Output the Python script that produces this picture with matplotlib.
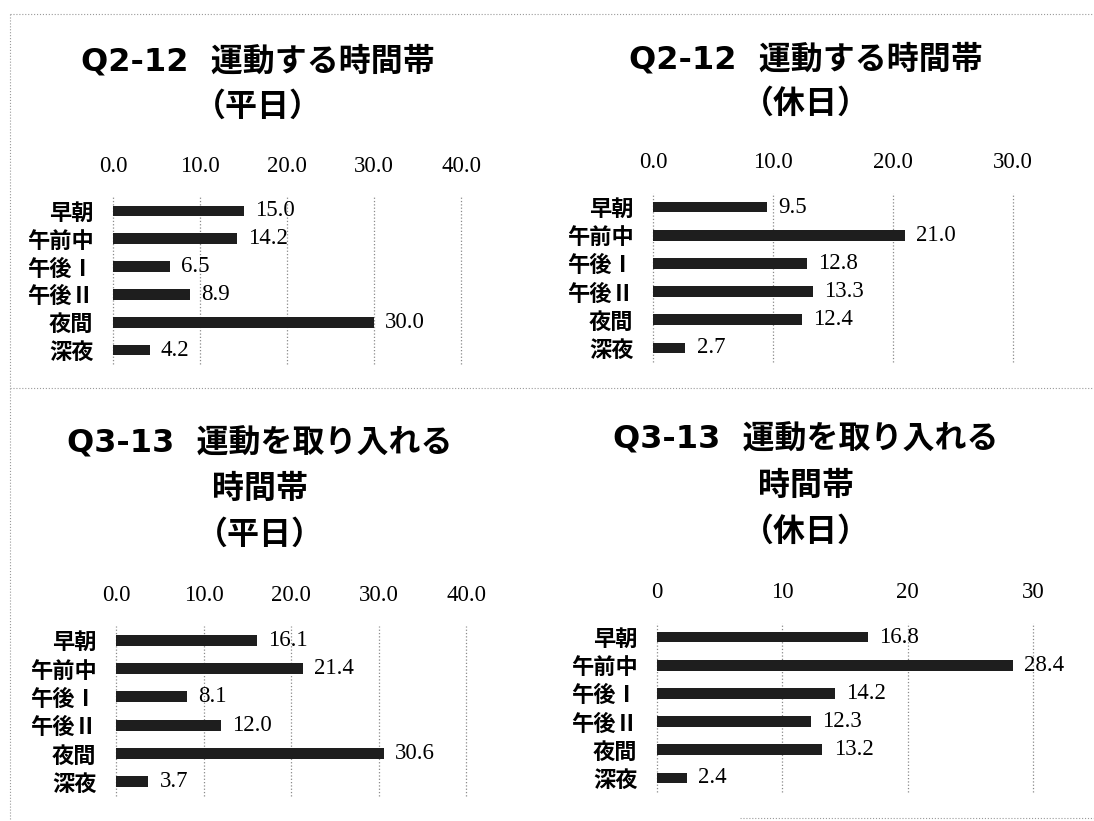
import numpy as np
import matplotlib
matplotlib.use("Agg")
import matplotlib.pyplot as plt
from matplotlib.lines import Line2D

plt.rcParams['font.family'] = ['Noto Sans CJK JP', 'DejaVu Sans']

# data (%)
categories = ['早朝', '午前中', '午後Ⅰ', '午後Ⅱ', '夜間', '深夜']

q2_weekday = [15.0, 14.2, 6.5, 8.9, 30.0, 4.2]
q2_holiday = [9.5, 21.0, 12.8, 13.3, 12.4, 2.7]
q3_weekday = [16.1, 21.4, 8.1, 12.0, 30.6, 3.7]
q3_holiday = [16.8, 28.4, 14.2, 12.3, 13.2, 2.4]

q2_title = ['Q2-12  運動する時間帯']
q3_title = ['Q3-13  運動を取り入れる', '時間帯']
weekday_label = '（平日）'
holiday_label = '（休日）'

ticks_40 = [0, 10, 20, 30, 40]
ticks_30 = [0, 10, 20, 30]

W, H = 1094, 821
fig = plt.figure(figsize=(W / 100, H / 100), dpi=100)
fig.patch.set_facecolor('white')

SERIF = 'Liberation Serif'
TITLE_FONT = ['DejaVu Sans', 'Noto Sans CJK JP']


def px_box(x0, x1, y0, y1):
    return [x0 / W, 1 - y1 / H, (x1 - x0) / W, (y1 - y0) / H]


def draw_panel(box, values, ticks, fmt, title_lines, title_x, title_ys):
    ax = fig.add_axes(box)
    y = np.arange(len(categories))
    ax.barh(y, values, height=0.38, color='#1e1e1e', zorder=3)
    ax.set_xlim(ticks[0], ticks[-1])
    ax.set_ylim(len(categories) - 0.5, -0.5)

    ax.xaxis.tick_top()
    ax.set_xticks(ticks)
    ax.set_xticklabels([fmt.format(t) for t in ticks], fontfamily=SERIF, fontsize=16.5)
    ax.tick_params(axis='x', length=0, pad=14.5)
    ax.set_yticks(y)
    ax.set_yticklabels(categories, fontsize=16, fontweight='bold')
    ax.tick_params(axis='y', length=0, pad=14)

    for s in ax.spines.values():
        s.set_visible(False)
    ax.grid(axis='x', linestyle=':', color='#8a8a8a', linewidth=0.9, zorder=0)
    for gl in ax.get_xgridlines():
        gl.set_clip_on(False)
    ax.grid(axis='y', visible=False)

    for i, v in enumerate(values):
        ax.annotate(f'{v:.1f}', (v, i), xytext=(8, 0), textcoords='offset points',
                    va='center', ha='left', fontfamily=SERIF, fontsize=16.5)

    for line, ty in zip(title_lines, title_ys):
        fig.text(title_x / W, 1 - ty / H, line, ha='center', va='center',
                 fontsize=23, fontweight='bold', family=TITLE_FONT)
    return ax


draw_panel(px_box(113, 461, 197, 364), q2_weekday, ticks_40, '{:.1f}',
           q2_title + [weekday_label], 258, [62, 107])
draw_panel(px_box(653, 1013, 193, 362), q2_holiday, ticks_30, '{:.1f}',
           q2_title + [holiday_label], 806, [60, 104])
draw_panel(px_box(116, 466, 626, 796), q3_weekday, ticks_40, '{:.1f}',
           q3_title + [weekday_label], 260, [444, 489, 535])
draw_panel(px_box(657, 1033, 623, 792), q3_holiday, ticks_30, '{:d}',
           q3_title + [holiday_label], 806, [440, 486, 532])

# dotted page separators from the scan
sep = dict(color='#9a9a9a', linestyle=':', linewidth=0.8)
for (x0, x1, y0, y1) in [(10, 1094, 14, 14), (10, 1094, 388, 388),
                         (740, 1094, 818, 818), (10, 10, 14, 821)]:
    fig.add_artist(Line2D([x0 / W, x1 / W], [1 - y0 / H, 1 - y1 / H],
                          transform=fig.transFigure, **sep))

fig.savefig('out.png', dpi=100)
